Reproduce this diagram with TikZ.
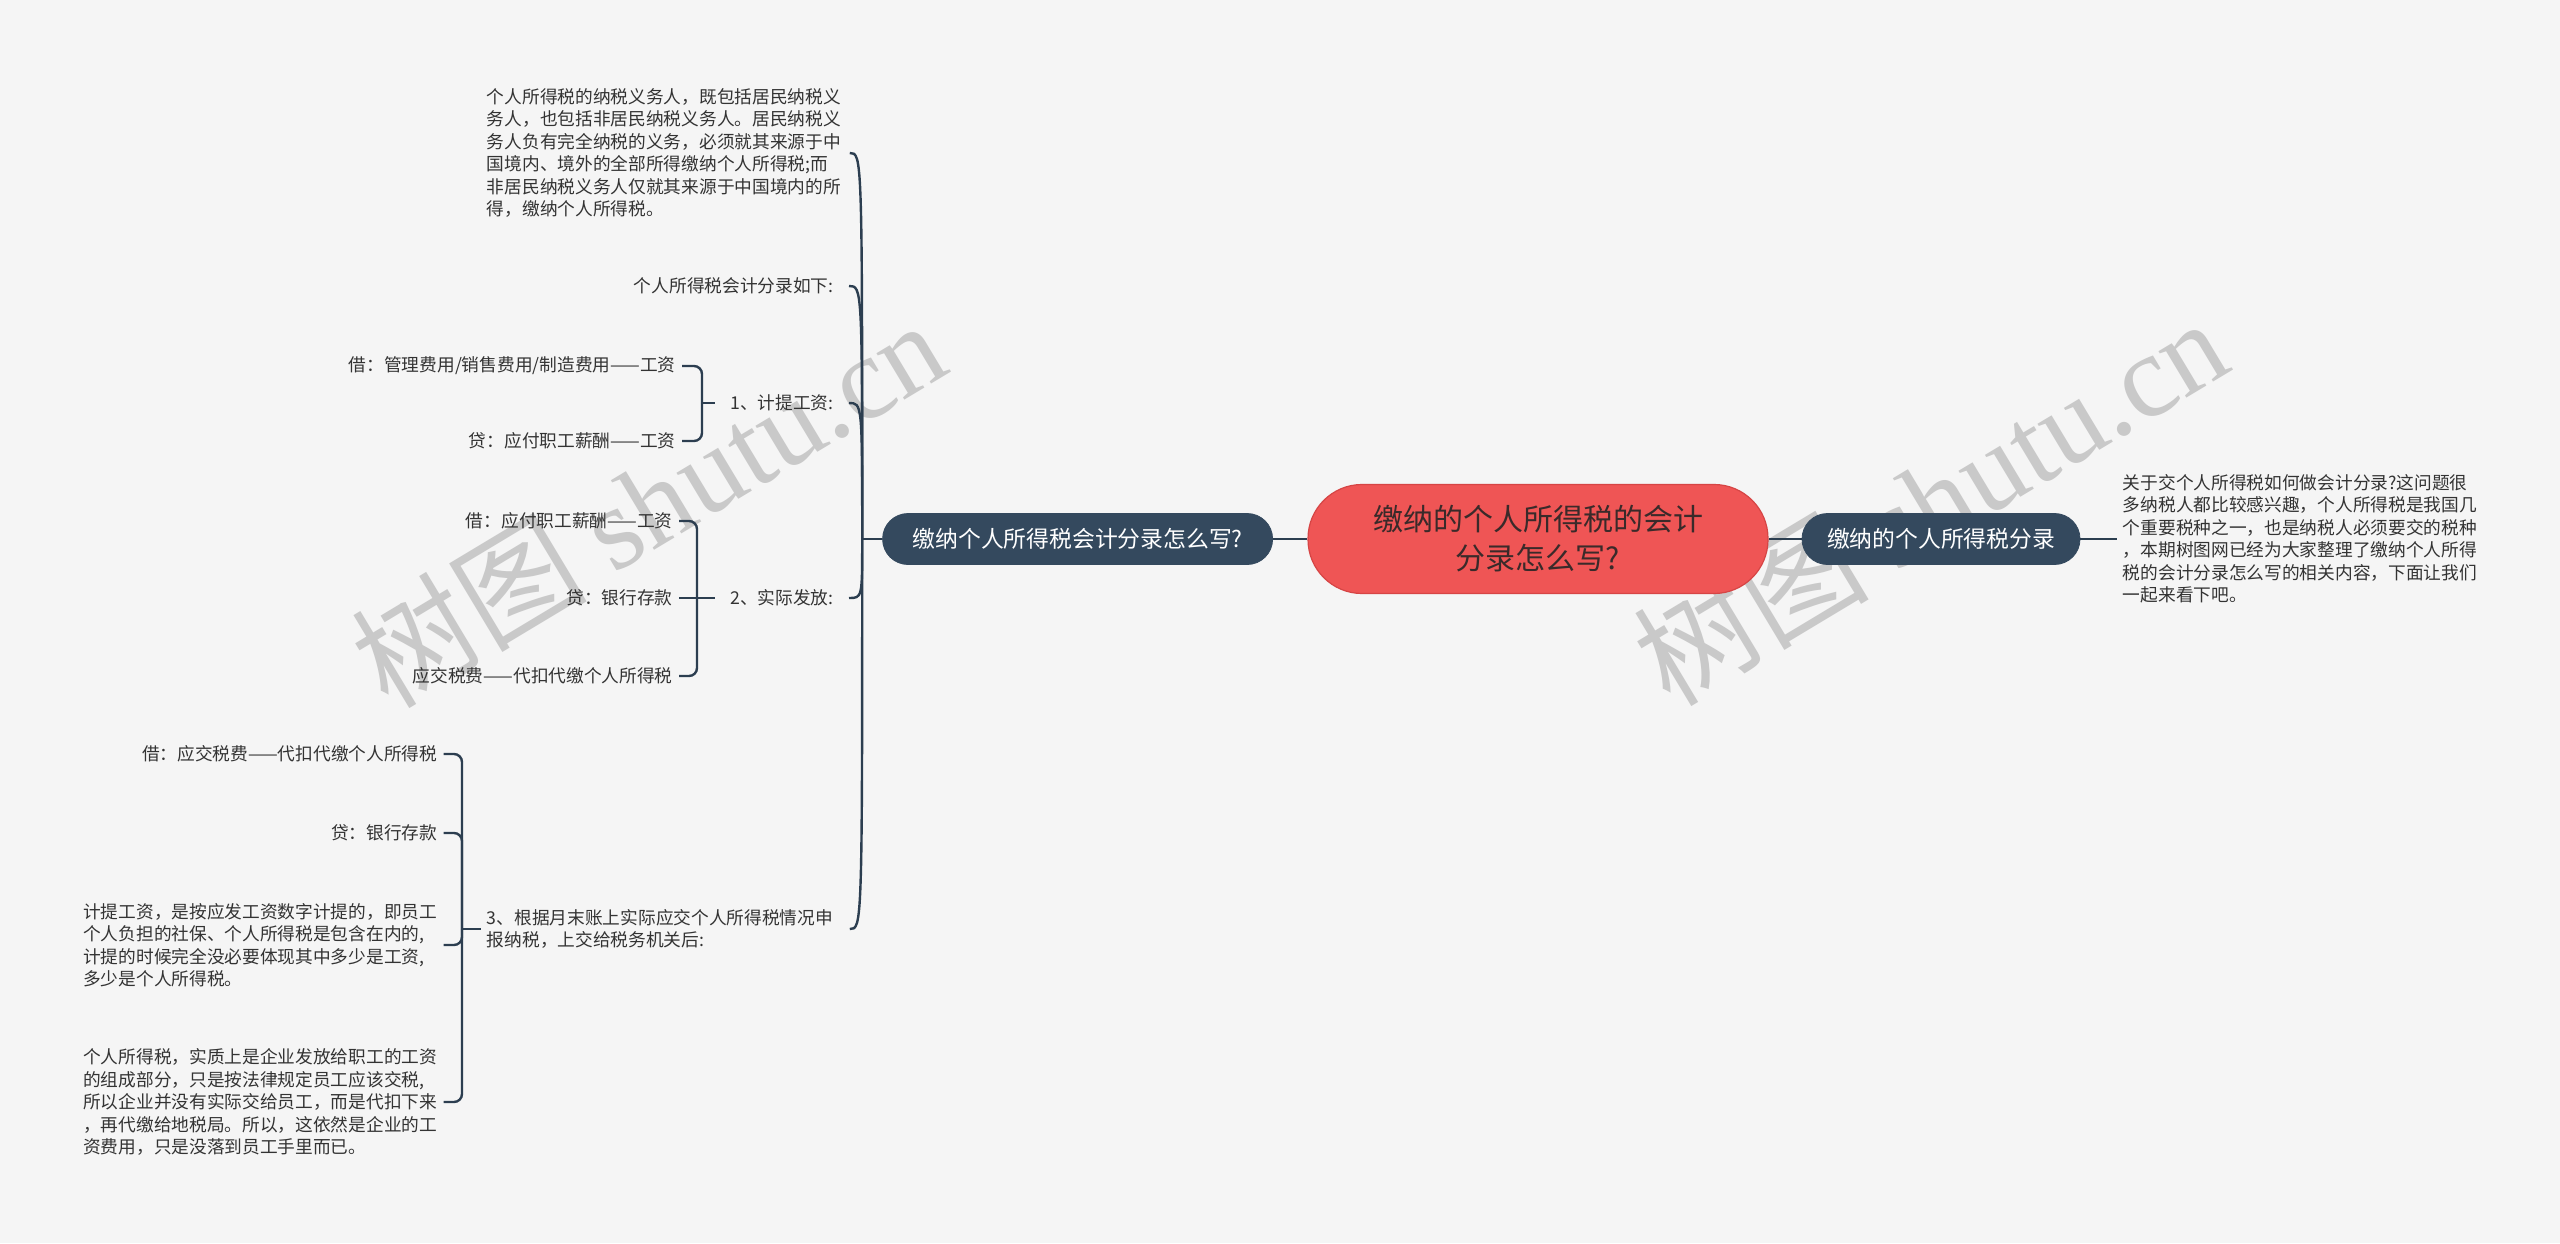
\documentclass[tikz,border=0pt]{standalone}
\usepackage{fontspec}
\setmainfont{Noto Sans CJK SC}
\newfontfamily\wmserif{Liberation Serif}
\usetikzlibrary{calc}
\definecolor{bg}{HTML}{F5F5F5}
\definecolor{linec}{HTML}{2C3E50}
\definecolor{darkn}{HTML}{34495E}
\definecolor{rootred}{HTML}{EF5555}
\definecolor{rootedge}{HTML}{D64545}
\definecolor{roottext}{HTML}{3A2A2A}
\definecolor{leaftext}{HTML}{333333}
\definecolor{wmgray}{HTML}{C9C9C9}
\begin{document}
\begin{tikzpicture}[x=0.5pt,y=-0.5pt,
  conn/.style={draw=linec,line width=1.2pt},
  elbow/.style={conn,rounded corners=4pt},
  leaf/.style={text=leaftext,font=\fontsize{8.85pt}{11.25pt}\selectfont,inner xsep=3pt,inner ysep=1pt,align=left},
  hooked/.style={leaf,inner xsep=7.5pt},
  topic/.style={fill=darkn,draw=darkn,text=white,font=\fontsize{11.4pt}{14pt}\selectfont,rounded corners=12.7pt,minimum height=25.5pt,inner xsep=0pt},
  rootbox/.style={fill=rootred,draw=rootedge,line width=0.6pt,text=roottext,font=\fontsize{15pt}{19.5pt}\selectfont,rounded corners=27pt,minimum width=230pt,minimum height=54.5pt,align=center},
  wm/.style={rotate=31,text=wmgray,font=\fontsize{59pt}{59pt}\selectfont}
]
\fill[bg] (0,0) rectangle (2560,1243);
\useasboundingbox (0,0) rectangle (2560,1243);

% watermarks (behind)
\node[wm] (wm1) at (648,502) {树图 {\wmserif shutu.cn}};
\node[wm] (wm2) at (1930,500) {树图 {\wmserif shutu.cn}};

% central and main topics
\node[rootbox] (root) at (1538,539) {缴纳的个人所得税的会计\\分录怎么写?};
\node[topic,minimum width=195pt] (L) at (1077.6,539) {缴纳个人所得税会计分录怎么写?};
\node[topic,minimum width=139pt] (R) at (1941,539) {缴纳的个人所得税分录};
\draw[conn] (root.west) -- (L.east);
\draw[conn] (root.east) -- (R.west);

% right leaf
\node[leaf,anchor=west] (r1) at (2116.5,539) {关于交个人所得税如何做会计分录?这问题很\\多纳税人都比较感兴趣，个人所得税是我国几\\个重要税种之一，也是纳税人必须要交的税种\\，本期树图网已经为大家整理了缴纳个人所得\\税的会计分录怎么写的相关内容，下面让我们\\一起来看下吧。};
\draw[conn] (R.east) -- (r1.west);

% left level 1
\node[leaf,anchor=west,text width=178.25pt] (c1) at (480.5,153) {个人所得税的纳税义务人，既包括居民纳税义\\务人，也包括非居民纳税义务人。居民纳税义\\务人负有完全纳税的义务，必须就其来源于中\\国境内、境外的全部所得缴纳个人所得税;而\\非居民纳税义务人仅就其来源于中国境内的所\\得，缴纳个人所得税。};
\node[hooked,anchor=east] (c2) at (849,286) {个人所得税会计分录如下:};
\node[hooked,anchor=east] (c3) at (849,403) {1、计提工资:};
\node[hooked,anchor=east] (c4) at (849,598) {2、实际发放:};
\node[leaf,anchor=west,text width=178.25pt] (c5) at (480.5,929) {3、根据月末账上实际应交个人所得税情况申\\报纳税，上交给税务机关后:};

\coordinate (trunk) at ($(L.west)+(-20,0)$);
\draw[conn] (L.west) -- (trunk);
\foreach \n in {c1,c2,c3,c4,c5}
  \draw[conn] (trunk) .. controls (trunk |- \n.east) .. (\n.east);

% level 2 under c3
\node[leaf,anchor=east] (c3a) at (682,366) {借：管理费用/销售费用/制造费用——工资};
\node[leaf,anchor=east] (c3b) at (682,441) {贷：应付职工薪酬——工资};
\coordinate (b3) at (702,403);
\draw[conn] (c3.west) -- (b3);
\draw[elbow] (b3) |- (c3a.east);
\draw[elbow] (b3) |- (c3b.east);

% level 2 under c4
\node[leaf,anchor=east] (c4a) at (679,521) {借：应付职工薪酬——工资};
\node[leaf,anchor=east] (c4b) at (679,598) {贷：银行存款};
\node[leaf,anchor=east] (c4c) at (679,676) {应交税费——代扣代缴个人所得税};
\coordinate (b4) at (697,598);
\draw[conn] (c4.west) -- (b4);
\draw[elbow] (b4) |- (c4a.east);
\draw[conn] (b4) -- (c4b.east);
\draw[elbow] (b4) |- (c4c.east);

% level 2 under c5
\node[leaf,anchor=east] (c5a) at (443.6,754) {借：应交税费——代扣代缴个人所得税};
\node[leaf,anchor=east] (c5b) at (443.6,833) {贷：银行存款};
\node[leaf,anchor=east] (c5c) at (443.6,945) {计提工资，是按应发工资数字计提的，即员工\\个人负担的社保、个人所得税是包含在内的,\\计提的时候完全没必要体现其中多少是工资,\\多少是个人所得税。};
\node[leaf,anchor=east] (c5d) at (443.6,1102) {个人所得税，实质上是企业发放给职工的工资\\的组成部分，只是按法律规定员工应该交税,\\所以企业并没有实际交给员工，而是代扣下来\\，再代缴给地税局。所以，这依然是企业的工\\资费用，只是没落到员工手里而已。};
\coordinate (b5) at ($(c5.west)+(-18.5,0)$);
\draw[conn] (c5.west) -- (b5);
\foreach \n in {c5a,c5b,c5c,c5d}
  \draw[elbow] (b5) |- (\n.east);
\end{tikzpicture}
\end{document}
